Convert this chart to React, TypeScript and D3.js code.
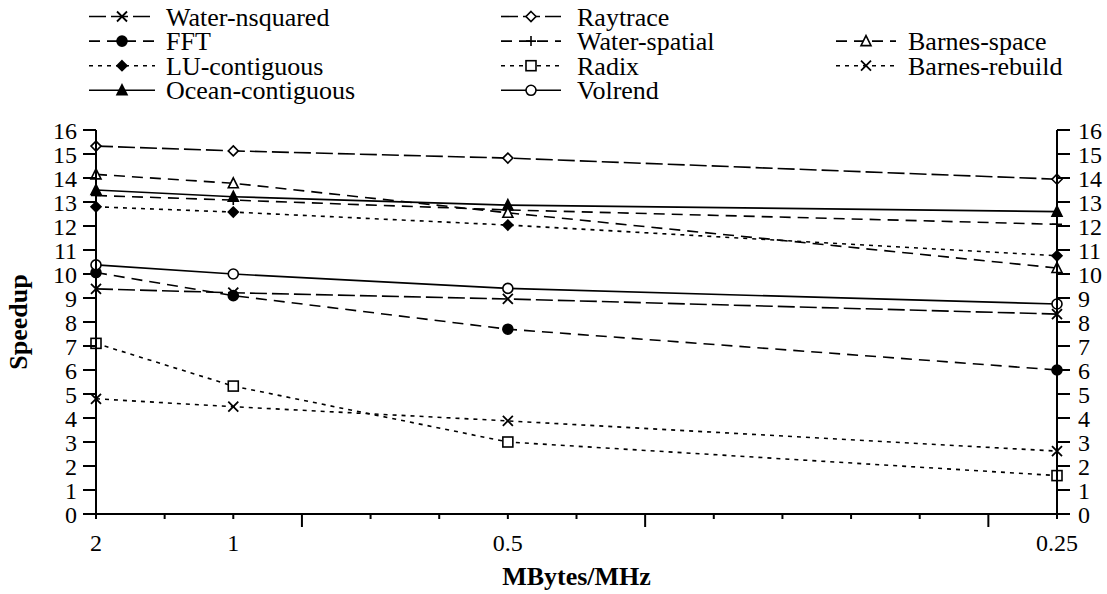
import React from "react";
import * as d3 from "d3";

// ---- data ----
const xValues = [2, 1, 0.5, 0.25]; // MBytes/MHz
const xLabels = ["2", "1", "0.5", "0.25"];
const yTicks = d3.range(0, 17, 1);

const waterNsquared = [9.38, 9.22, 8.96, 8.33];
const fft = [10.06, 9.1, 7.7, 6.0];
const luContiguous = [12.8, 12.58, 12.04, 10.76];
const oceanContiguous = [13.5, 13.22, 12.87, 12.6];
const raytrace = [15.33, 15.13, 14.83, 13.95];
const waterSpatial = [13.27, 13.08, 12.67, 12.07];
const radix = [7.11, 5.33, 3.0, 1.6];
const volrend = [10.38, 10.0, 9.4, 8.75];
const barnesSpace = [14.15, 13.78, 12.55, 10.25];
const barnesRebuild = [4.8, 4.47, 3.88, 2.62];

type Marker = "times" | "circleFilled" | "diamondFilled" | "triangleFilled" | "diamondOpen" | "plus" | "squareOpen" | "circleOpen" | "triangleOpen";

const LONG = "17,5";
const DASH = "11,7";
const DOT = "4,5";

const series: { name: string; values: number[]; marker: Marker; dash: string | null; col: number; row: number }[] = [
  { name: "Water-nsquared", values: waterNsquared, marker: "times", dash: LONG, col: 0, row: 0 },
  { name: "FFT", values: fft, marker: "circleFilled", dash: DASH, col: 0, row: 1 },
  { name: "LU-contiguous", values: luContiguous, marker: "diamondFilled", dash: DOT, col: 0, row: 2 },
  { name: "Ocean-contiguous", values: oceanContiguous, marker: "triangleFilled", dash: null, col: 0, row: 3 },
  { name: "Raytrace", values: raytrace, marker: "diamondOpen", dash: LONG, col: 1, row: 0 },
  { name: "Water-spatial", values: waterSpatial, marker: "plus", dash: DASH, col: 1, row: 1 },
  { name: "Radix", values: radix, marker: "squareOpen", dash: DOT, col: 1, row: 2 },
  { name: "Volrend", values: volrend, marker: "circleOpen", dash: null, col: 1, row: 3 },
  { name: "Barnes-space", values: barnesSpace, marker: "triangleOpen", dash: DASH, col: 2, row: 1 },
  { name: "Barnes-rebuild", values: barnesRebuild, marker: "times", dash: DOT, col: 2, row: 2 },
];

const FONT = '"Liberation Serif", "Times New Roman", Times, "DejaVu Serif", serif';

const W = 1107;
const H = 594;
const plotLeft = 96;
const plotRight = 1057;
const plotTop = 130;
const plotBottom = 514;

// x is linear in MHz per MByte (1/x)
const x = d3.scaleLinear().domain([0.5, 4]).range([plotLeft, plotRight]);
const y = d3.scaleLinear().domain([0, 16]).range([plotBottom, plotTop]);

const minorTicks = d3.range(0.5, 4.0001, 0.25);
const tallTicks = [1.25, 2.5, 3.75];

function MarkerShape({ type, cx, cy }: { type: Marker; cx: number; cy: number }) {
  const s = 5;
  const common = { stroke: "#000", strokeWidth: 1.6 } as any;
  switch (type) {
    case "times":
      return <path d={`M${cx - s},${cy - s}L${cx + s},${cy + s}M${cx - s},${cy + s}L${cx + s},${cy - s}`} {...common} fill="none" strokeWidth={1.8} />;
    case "plus":
      return <path d={`M${cx - s},${cy}L${cx + s},${cy}M${cx},${cy - s}L${cx},${cy + s}`} {...common} fill="none" />;
    case "circleFilled":
      return <circle cx={cx} cy={cy} r={5} fill="#000" {...common} />;
    case "circleOpen":
      return <circle cx={cx} cy={cy} r={5} fill="#fff" {...common} />;
    case "diamondFilled":
      return <path d={`M${cx},${cy - s}L${cx + s},${cy}L${cx},${cy + s}L${cx - s},${cy}Z`} fill="#000" {...common} />;
    case "diamondOpen":
      return <path d={`M${cx},${cy - s}L${cx + s},${cy}L${cx},${cy + s}L${cx - s},${cy}Z`} fill="#fff" {...common} />;
    case "triangleFilled":
      return <path d={`M${cx},${cy - s - 0.5}L${cx + s},${cy + s - 0.5}L${cx - s},${cy + s - 0.5}Z`} fill="#000" {...common} />;
    case "triangleOpen":
      return <path d={`M${cx},${cy - s - 0.5}L${cx + s},${cy + s - 0.5}L${cx - s},${cy + s - 0.5}Z`} fill="#fff" {...common} />;
    case "squareOpen":
      return <rect x={cx - s} y={cy - s} width={2 * s} height={2 * s} fill="#fff" {...common} />;
  }
  return null;
}

const legendCols = [
  { lx0: 89, lx1: 155, tx: 166 },
  { lx0: 501, lx1: 561, tx: 577 },
  { lx0: 836, lx1: 896, tx: 908 },
];
const legendRowY = (r: number) => 16.5 + r * 24.6;

const textStyle = { fontFamily: FONT } as React.CSSProperties;

export default function App() {
  const line = d3
    .line<number>()
    .x((_, i) => x(1 / xValues[i]))
    .y((d) => y(d));

  return (
    <svg width={W} height={H} style={{ position: "absolute", left: 0, top: 0, background: "#fff", fontFamily: FONT }}>
      <rect x={0} y={0} width={W} height={H} fill="#fff" />
      {/* Legend */}
      {series.map((s) => {
        const c = legendCols[s.col];
        const cy = legendRowY(s.row);
        const cx = (c.lx0 + c.lx1) / 2;
        return (
          <g key={"leg" + s.name}>
            <line x1={c.lx0} x2={c.lx1} y1={cy} y2={cy} stroke="#000" strokeWidth={1.6} strokeDasharray={s.dash ?? undefined} />
            <MarkerShape type={s.marker} cx={cx} cy={cy} />
            <text x={c.tx} y={cy + 9} fontSize={26} fill="#000" style={textStyle}>
              {s.name}
            </text>
          </g>
        );
      })}

      {/* Series lines */}
      {series.map((s) => (
        <path key={"line" + s.name} d={line(s.values) || ""} fill="none" stroke="#000" strokeWidth={1.6} strokeDasharray={s.dash ?? undefined} />
      ))}
      {/* Markers */}
      {series.map((s) => (
        <g key={"mk" + s.name}>
          {s.values.map((v, i) => (
            <MarkerShape key={i} type={s.marker} cx={x(1 / xValues[i])} cy={y(v)} />
          ))}
        </g>
      ))}

      {/* Axes */}
      <line x1={plotLeft} x2={plotLeft} y1={plotTop} y2={plotBottom} stroke="#000" strokeWidth={2} />
      <line x1={plotRight} x2={plotRight} y1={plotTop} y2={plotBottom} stroke="#000" strokeWidth={2} />
      <line x1={plotLeft - 13} x2={plotRight + 13} y1={plotBottom} y2={plotBottom} stroke="#000" strokeWidth={2} />
      {yTicks.map((t) => (
        <g key={"yt" + t}>
          <line x1={plotLeft - 13} x2={plotLeft} y1={y(t)} y2={y(t)} stroke="#000" strokeWidth={2} />
          <line x1={plotRight} x2={plotRight + 13} y1={y(t)} y2={y(t)} stroke="#000" strokeWidth={2} />
          <text x={77} y={y(t)} dy="0.36em" textAnchor="end" fontSize={24} fill="#000" style={textStyle}>
            {t}
          </text>
          <text x={1078} y={y(t)} dy="0.36em" textAnchor="start" fontSize={24} fill="#000" style={textStyle}>
            {t}
          </text>
        </g>
      ))}
      {minorTicks.map((t) => (
        <line key={"xt" + t} x1={x(t)} x2={x(t)} y1={plotBottom} y2={plotBottom + (tallTicks.includes(t) ? 13 : 5)} stroke="#000" strokeWidth={2} />
      ))}
      {xValues.map((v, i) => (
        <text key={"xl" + i} x={x(1 / v)} y={551} textAnchor="middle" fontSize={24} fill="#000" style={textStyle}>
          {xLabels[i]}
        </text>
      ))}

      {/* Axis titles */}
      <text x={(plotLeft + plotRight) / 2} y={585} textAnchor="middle" fontSize={26} fontWeight="bold" fill="#000" style={textStyle}>
        MBytes/MHz
      </text>
      <text transform={`translate(27,322) rotate(-90)`} textAnchor="middle" fontSize={26} fontWeight="bold" fill="#000" style={textStyle}>
        Speedup
      </text>
    </svg>
  );
}
